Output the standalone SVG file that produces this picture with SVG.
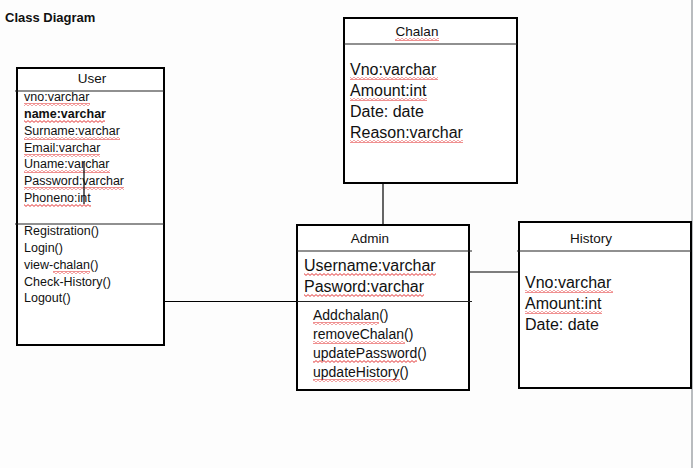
<svg xmlns="http://www.w3.org/2000/svg" width="693" height="468" viewBox="0 0 693 468">
<style>
text{font-family:"Liberation Sans",Arial,sans-serif;fill:#111}
.title{font-size:13px;font-weight:bold}
.hd{font-size:13.5px;text-anchor:middle}
.s{font-size:12.5px}
.m{font-size:16px}
.mm{font-size:14px}
.box{fill:#fff;stroke:#000;stroke-width:2}
.sep{stroke:#222;stroke-width:1.2}
.con{stroke:#000;stroke-width:1.2;fill:none}
.sq{fill:url(#wavy)}
</style>
<defs>
<pattern id="wavy" x="0" y="0" width="4" height="3" patternUnits="userSpaceOnUse">
<path d="M0,0.6 L2,2.4 L4,0.6" fill="none" stroke="#e02020" stroke-width="0.9"/>
</pattern>
</defs>
<rect x="0" y="0" width="693" height="468" fill="#fdfdfd"/>
<line x1="692" y1="0" x2="692" y2="468" stroke="#a2a6aa" stroke-width="1.5"/>
<text class="title" x="5" y="22">Class Diagram</text>

<g id="connectors">
<line class="con" x1="383" y1="183" x2="383" y2="225"/>
<line class="con" x1="164" y1="301.5" x2="297" y2="301.5"/>
<line class="con" x1="469" y1="272" x2="519" y2="272"/>
</g>

<g id="user">
<rect class="box" x="17" y="68" width="147" height="277"/>
<line class="sep" x1="15" y1="91" x2="164" y2="91"/>
<line class="sep" x1="15" y1="224" x2="164" y2="224"/>
<text class="hd" x="92" y="83">User</text>
<text class="s" x="24" y="101">vno:varchar</text>
<text class="s" x="24" y="118" font-weight="bold">name:varchar</text>
<text class="s" x="24" y="135">Surname:varchar</text>
<text class="s" x="24" y="152">Email:varchar</text>
<text class="s" x="24" y="168">Uname:varchar</text>
<text class="s" x="24" y="185">Password:varchar</text>
<text class="s" x="24" y="202">Phoneno:int</text>
<rect class="sq" x="24" y="103" width="66" height="3"/>
<rect class="sq" x="24" y="120" width="81" height="3"/>
<rect class="sq" x="24" y="137" width="96" height="3"/>
<rect class="sq" x="24" y="154" width="76" height="3"/>
<rect class="sq" x="24" y="170" width="86" height="3"/>
<rect class="sq" x="24" y="187" width="100" height="3"/>
<rect class="sq" x="24" y="204" width="67" height="3"/>
<line x1="84" y1="162" x2="84" y2="204" stroke="#000" stroke-width="1.2"/>
<text class="s" x="24" y="235">Registration()</text>
<text class="s" x="24" y="252">Login()</text>
<text class="s" x="24" y="269">view-chalan()</text>
<text class="s" x="24" y="286">Check-History()</text>
<text class="s" x="24" y="302">Logout()</text>
<rect class="sq" x="53" y="271" width="37" height="3"/>
</g>

<g id="chalan">
<rect class="box" x="344" y="18" width="173" height="165"/>
<line class="sep" x1="344" y1="44" x2="517" y2="44"/>
<text class="hd" x="417" y="36">Chalan</text>
<rect class="sq" x="395" y="38" width="44" height="3"/>
<text class="m" x="350" y="75">Vno:varchar</text>
<text class="m" x="350" y="96">Amount:int</text>
<text class="m" x="350" y="117">Date: date</text>
<text class="m" x="350" y="138">Reason:varchar</text>
<rect class="sq" x="350" y="77" width="88" height="3"/>
<rect class="sq" x="350" y="98" width="77" height="3"/>
<rect class="sq" x="350" y="140" width="113" height="3"/>
</g>

<g id="admin">
<rect class="box" x="297" y="225" width="172" height="165"/>
<line class="sep" x1="297" y1="251" x2="472" y2="251"/>
<line class="sep" x1="297" y1="301.5" x2="472" y2="301.5" stroke="#555"/>
<text class="hd" x="370" y="243">Admin</text>
<text class="m" x="304" y="271">Username:varchar</text>
<text class="m" x="304" y="292">Pasword:varchar</text>
<rect class="sq" x="304" y="273" width="132" height="3"/>
<rect class="sq" x="304" y="294" width="120" height="3"/>
<text class="mm" x="313" y="320">Addchalan()</text>
<text class="mm" x="313" y="339">removeChalan()</text>
<text class="mm" x="313" y="358">updatePassword()</text>
<text class="mm" x="313" y="377">updateHistory()</text>
<rect class="sq" x="313" y="322" width="66" height="3"/>
<rect class="sq" x="313" y="341" width="92" height="3"/>
<rect class="sq" x="313" y="360" width="104" height="3"/>
<rect class="sq" x="313" y="379" width="87" height="3"/>
</g>

<g id="history">
<rect class="box" x="519" y="222" width="172" height="166"/>
<line class="sep" x1="517" y1="251" x2="691" y2="251"/>
<text class="hd" x="591" y="243">History</text>
<text class="m" x="525" y="288">Vno:varchar</text>
<text class="m" x="525" y="309">Amount:int</text>
<text class="m" x="525" y="330">Date: date</text>
<rect class="sq" x="525" y="290" width="88" height="3"/>
<rect class="sq" x="525" y="311" width="77" height="3"/>
</g>
</svg>
